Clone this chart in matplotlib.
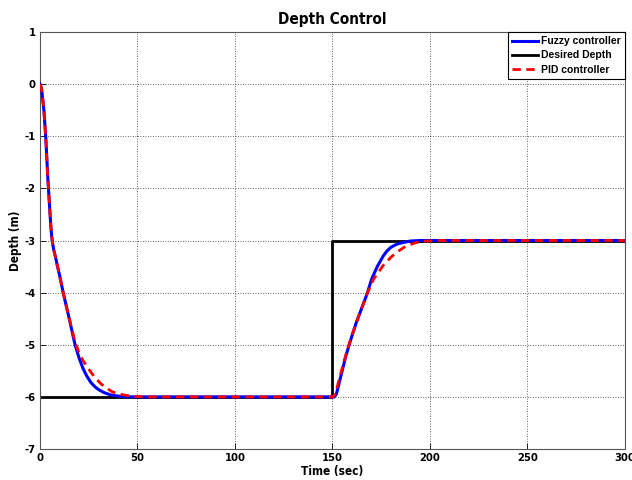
import matplotlib
matplotlib.use('Agg')
import matplotlib.pyplot as plt

plt.rcParams['axes.unicode_minus'] = False

# Desired depth (step at t=150)
t_des = [0, 150, 150, 300]
y_des = [-6, -6, -3, -3]

# Fuzzy controller response
t_fuzzy = [0, 0.5, 1, 2, 3, 4, 5, 5.5, 6, 6.5, 7, 8, 9, 10, 11, 12, 13, 14, 15, 16, 17, 18, 20,
           22, 24, 26, 28, 30, 33, 36, 40, 45, 50,
           150, 151, 152, 153, 155, 157, 159, 162, 165, 168, 170, 173, 176, 178, 180, 183, 186,
           190, 195, 300]
y_fuzzy = [0, -0.05, -0.15, -0.5, -1.05, -1.8, -2.4, -2.7, -2.92, -3.06, -3.17, -3.33, -3.5,
           -3.66, -3.84, -4.02, -4.18, -4.34, -4.5, -4.67, -4.84, -5.0, -5.25, -5.45, -5.6, -5.72,
           -5.8, -5.86, -5.92, -5.96, -5.985, -6, -6,
           -6, -6, -5.95, -5.8, -5.5, -5.2, -4.95, -4.6, -4.3, -4.0, -3.75, -3.5, -3.3, -3.2,
           -3.13, -3.07, -3.04, -3.01, -3.0, -3.0]

# PID controller response
t_pid = [0, 0.5, 1, 2, 3, 4, 5, 5.5, 6, 6.5, 7, 8, 9, 10, 11, 12, 13, 14, 15, 16, 17, 18, 20,
         22, 25, 28, 31, 34, 37, 40, 44, 48, 55,
         150, 151.5, 152.5, 155, 158, 162, 165, 168, 171, 176, 180, 184, 188, 193, 198, 205, 300]
y_pid = [0, -0.05, -0.15, -0.5, -1.05, -1.8, -2.4, -2.7, -2.92, -3.06, -3.17, -3.33, -3.5,
         -3.66, -3.84, -4.02, -4.18, -4.34, -4.5, -4.65, -4.8, -4.95, -5.15, -5.3, -5.47, -5.62,
         -5.74, -5.83, -5.9, -5.94, -5.97, -5.99, -6,
         -6, -5.95, -5.8, -5.45, -5.05, -4.6, -4.3, -4.0, -3.75, -3.48, -3.32, -3.2, -3.1,
         -3.04, -3.01, -3.0, -3.0]

narrow = ['DejaVu Sans']

fig = plt.figure(figsize=(6.32, 4.8), dpi=100)
ax = fig.add_axes([0.0633, 0.0646, 0.9254, 0.8687])

ax.plot(t_fuzzy, y_fuzzy, color='#0000ff', lw=2.2, label='Fuzzy controller', zorder=3)
ax.plot(t_des, y_des, color='black', lw=2.0, label='Desired Depth', zorder=2)
ax.plot(t_pid, y_pid, color='#ff0000', lw=2.0, ls=(0, (3, 2)), label='PID controller', zorder=4)

ax.set_xlim(0, 300)
ax.set_ylim(-7, 1)
ax.set_xticks(range(0, 301, 50))
ax.set_yticks(range(-7, 2))
ax.grid(True, color='#333333', ls=(0, (1, 2)), lw=0.6)
ax.tick_params(direction='in', length=4, width=0.6, pad=3)
for lab in ax.get_xticklabels() + ax.get_yticklabels():
    lab.set_family(narrow)
    lab.set_stretch('condensed')
    lab.set_fontweight('bold')
    lab.set_fontsize(8)
for s in ax.spines.values():
    s.set_color('#555555')
    s.set_linewidth(0.8)

ax.set_title('Depth Control', family=narrow, stretch='condensed', fontweight='bold',
             fontsize=11, pad=6)
ax.set_xlabel('Time (sec)', family=narrow, stretch='condensed', fontweight='bold',
              fontsize=8.5, labelpad=1)
ax.set_ylabel('Depth (m)', family=narrow, stretch='condensed', fontweight='bold',
              fontsize=8.5, labelpad=2)

leg = ax.legend(loc='upper right', prop={'family': 'Liberation Sans', 'weight': 'bold', 'size': 7.5},
                fancybox=False, edgecolor='black', framealpha=1, borderaxespad=0,
                handlelength=2.5, handletextpad=0.3, labelspacing=0.4, borderpad=0.4)
leg.get_frame().set_linewidth(0.8)

fig.savefig('out.png', dpi=100)
